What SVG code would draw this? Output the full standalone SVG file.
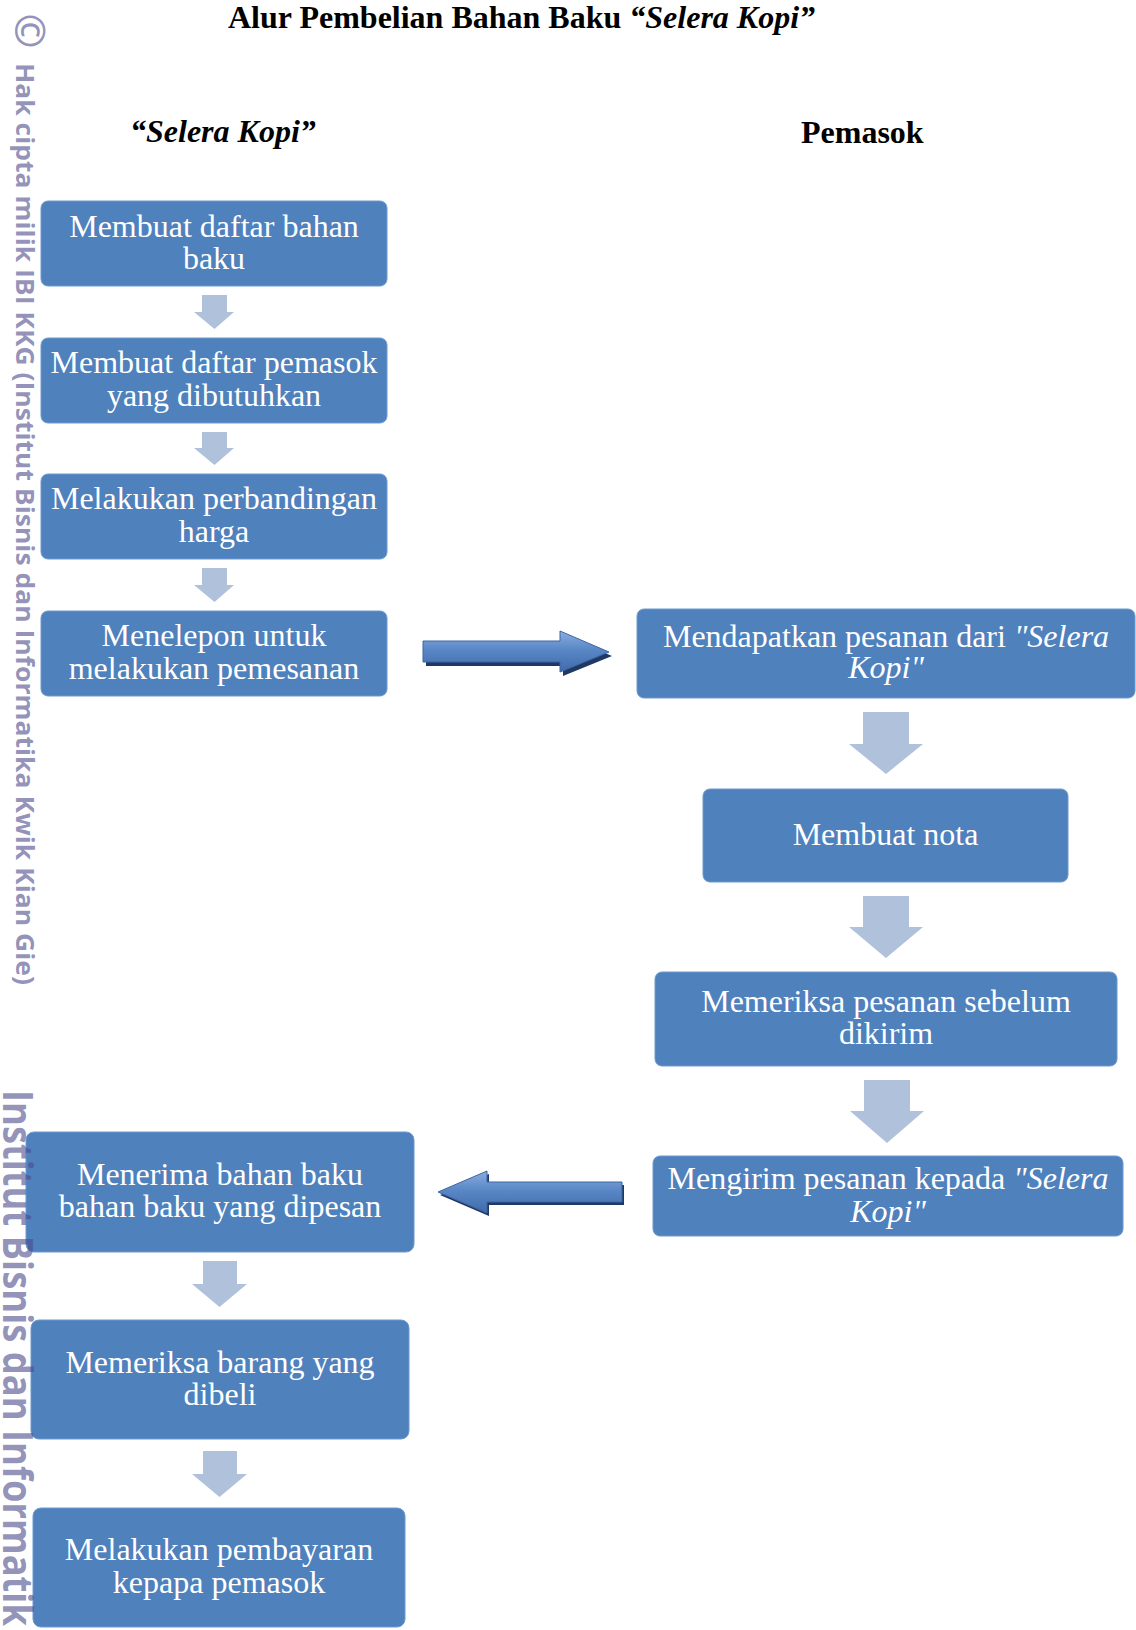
<svg xmlns="http://www.w3.org/2000/svg" width="1136" height="1630" viewBox="0 0 1136 1630">
<style>
.box{fill:#4f81bd;stroke:#6e98cd;stroke-width:1}
.bt{font-family:"Liberation Serif","Times New Roman",serif;font-size:32px;fill:#ffffff;text-anchor:middle}
.it{font-style:italic}
.down{fill:#b0c1dc}
.hdr{font-family:"Liberation Serif","Times New Roman",serif;font-weight:bold;font-size:32px;fill:#000000}
.wm{font-family:"Open Sans","DejaVu Sans",sans-serif;fill:#4b4a8c;fill-opacity:0.6}
.big{fill:url(#ag)}
.shd{fill:#1f3864}
</style>
<defs>
<linearGradient id="ag" x1="0" y1="0" x2="0" y2="1">
<stop offset="0" stop-color="#8aaee0"/>
<stop offset="0.45" stop-color="#5a87c6"/>
<stop offset="1" stop-color="#3f6bab"/>
</linearGradient>
</defs>

<text class="hdr" x="228" y="28">Alur Pembelian Bahan Baku <tspan class="it">“Selera Kopi”</tspan></text>
<text class="hdr it" x="130" y="142">“Selera Kopi”</text>
<text class="hdr" x="801" y="143" font-size="31">Pemasok</text>

<g id="n1"><rect class="box" x="41" y="201" width="346" height="85" rx="7"/><text class="bt" x="214" y="237">Membuat daftar bahan<tspan x="214" dy="32">baku</tspan></text></g>
<g id="n2"><rect class="box" x="41" y="338" width="346" height="85" rx="7"/><text class="bt" x="214" y="373">Membuat daftar pemasok<tspan x="214" dy="33">yang dibutuhkan</tspan></text></g>
<g id="n3"><rect class="box" x="41" y="474" width="346" height="85" rx="7"/><text class="bt" x="214" y="509">Melakukan perbandingan<tspan x="214" dy="33">harga</tspan></text></g>
<g id="n4"><rect class="box" x="41" y="611" width="346" height="85" rx="7"/><text class="bt" x="214" y="646">Menelepon untuk<tspan x="214" dy="33">melakukan pemesanan</tspan></text></g>

<g id="n5"><rect class="box" x="637" y="609" width="498" height="89" rx="7"/><text class="bt" x="886" y="647">Mendapatkan pesanan dari <tspan class="it">"Selera</tspan><tspan class="it" x="886" dy="31">Kopi"</tspan></text></g>
<g id="n6"><rect class="box" x="703" y="789" width="365" height="93" rx="7"/><text class="bt" x="885.5" y="845">Membuat nota</text></g>
<g id="n7"><rect class="box" x="655" y="972" width="462" height="94" rx="7"/><text class="bt" x="886" y="1012">Memeriksa pesanan sebelum<tspan x="886" dy="32">dikirim</tspan></text></g>
<g id="n8"><rect class="box" x="653" y="1156" width="470" height="80" rx="7"/><text class="bt" x="888" y="1189">Mengirim pesanan kepada <tspan class="it">"Selera</tspan><tspan class="it" x="888" dy="33">Kopi"</tspan></text></g>

<g id="n9"><rect class="box" x="26" y="1132" width="388" height="120" rx="8"/><text class="bt" x="220" y="1185">Menerima bahan baku<tspan x="220" dy="32">bahan baku yang dipesan</tspan></text></g>
<g id="n10"><rect class="box" x="31" y="1320" width="378" height="119" rx="8"/><text class="bt" x="220" y="1373">Memeriksa barang yang<tspan x="220" dy="32">dibeli</tspan></text></g>
<g id="n11"><rect class="box" x="33" y="1508" width="372" height="119" rx="8"/><text class="bt" x="219" y="1560">Melakukan pembayaran<tspan x="219" dy="33">kepapa pemasok</tspan></text></g>

<g id="connectors">
<path class="down" d="M202,295 H227 V312 H234 L214.5,329 L194,312 H202 Z"/>
<path class="down" d="M202,432 H227 V448 H234 L214.5,465 L194,448 H202 Z"/>
<path class="down" d="M202,568 H227 V585 H234 L214.5,602 L194,585 H202 Z"/>
<path class="down" d="M863,712 H909 V744 H923 L886,774 L849,744 H863 Z"/>
<path class="down" d="M863,896 H909 V927 H923 L886,958 L849,927 H863 Z"/>
<path class="down" d="M864,1080 H910 V1111 H924 L887,1143 L850,1111 H864 Z"/>
<path class="down" d="M203,1261 H237 V1284 H247 L219.5,1307 L192,1284 H203 Z"/>
<path class="down" d="M203,1451 H237 V1474 H247 L219.5,1497 L192,1474 H203 Z"/>
<path class="shd" transform="translate(3,4)" d="M423,641 H560 V631 L609,652 L560,672 V662 H423 Z"/>
<path class="big" stroke="#3d66a3" stroke-width="1" d="M423,641 H560 V631 L609,652 L560,672 V662 H423 Z"/>
<path class="shd" transform="translate(2,3)" d="M622,1182 H487 V1171 L438,1192 L487,1213 V1202 H622 Z"/>
<path class="big" stroke="#3d66a3" stroke-width="1" d="M622,1182 H487 V1171 L438,1192 L487,1213 V1202 H622 Z"/>
</g>

<g id="watermark">
<text class="wm" transform="translate(31,31) rotate(90)" text-anchor="middle" dominant-baseline="central" font-size="42" font-weight="600">©</text>
<text class="wm" transform="translate(16,63) rotate(90)" font-size="25" font-weight="bold" textLength="922" lengthAdjust="spacingAndGlyphs">Hak cipta milik IBI KKG (Institut Bisnis dan Informatika Kwik Kian Gie)</text>
<text class="wm" transform="translate(3,1090) rotate(90)" font-size="42" font-weight="bold" textLength="536" lengthAdjust="spacingAndGlyphs">Institut Bisnis dan Informatik</text>
</g>
</svg>
